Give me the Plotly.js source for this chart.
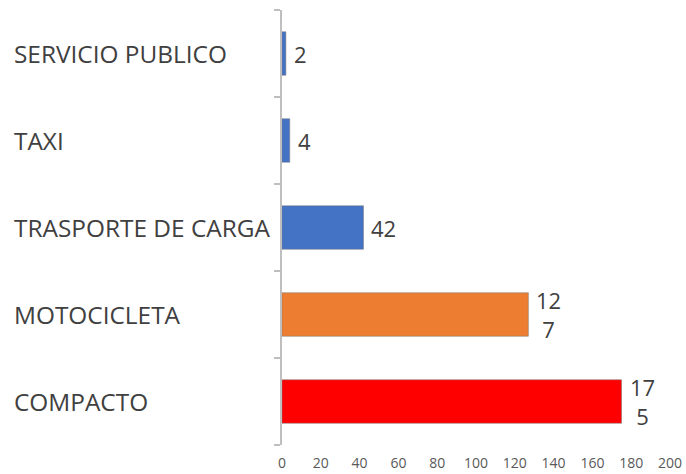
<!DOCTYPE html>
<html><head><meta charset="utf-8">
<script src="https://cdn.plot.ly/plotly-3.0.1.min.js"></script>
<style>html,body{margin:0;padding:0;background:#fff;}#chart{width:686px;height:474px;}</style>
</head><body><div id="chart"></div>
<script>
// Data (bottom to top)
const categories = ["COMPACTO", "MOTOCICLETA", "TRASPORTE DE CARGA", "TAXI", "SERVICIO PUBLICO"];
const values = [175, 127, 42, 4, 2];
const barColors = ["#FF0000", "#ED7D31", "#4472C4", "#4472C4", "#4472C4"];
const xTicks = [0, 20, 40, 60, 80, 100, 120, 140, 160, 180, 200];

// Excel wraps 3-digit labels after 2 digits
const labels = values.map(v => { const s = String(v); return s.length > 2 ? s.slice(0, 2) + "<br>" + s.slice(2) : s; });

const FONT = "'Open Sans', Lato, sans-serif";

const trace = {
  type: "bar", orientation: "h",
  x: values, y: categories,
  marker: {color: barColors, line: {color: "rgba(120,120,120,0.5)", width: 1}},
  hoverinfo: "none"
};

const catAnnotations = categories.map(c => ({
  xref: "paper", yref: "y", x: -0.697, y: c, xanchor: "left", yanchor: "middle",
  text: c, showarrow: false,
  font: {family: FONT, size: 24.4, color: "#404040"}
}));

const valAnnotations = values.map((v, i) => ({
  xref: "x", yref: "y", x: v, y: categories[i], xanchor: "left", yanchor: "middle",
  xshift: 6, text: labels[i], showarrow: false, align: "center",
  font: {family: FONT, size: 22, color: "#404040"}
}));

const layout = {
  width: 686, height: 474,
  margin: {l: 282, r: 16, t: 10, b: 29},
  paper_bgcolor: "#fff", plot_bgcolor: "#fff",
  showlegend: false, bargap: 0.5,
  xaxis: {
    range: [0, 200], tickvals: xTicks, showgrid: false, zeroline: false, showline: false,
    ticks: "", ticklabelstandoff: 8,
    tickfont: {family: FONT, size: 14, color: "#595959"}
  },
  yaxis: {
    type: "category", categoryorder: "array", categoryarray: categories,
    showticklabels: false, showgrid: false, zeroline: false,
    showline: true, linecolor: "#BFBFBF", linewidth: 2,
    ticks: "outside", tickson: "boundaries", ticklen: 6, tickcolor: "#BFBFBF", tickwidth: 2
  },
  annotations: catAnnotations.concat(valAnnotations)
};

Plotly.newPlot("chart", [trace], layout, {displayModeBar: false, staticPlot: true});
</script></body></html>
